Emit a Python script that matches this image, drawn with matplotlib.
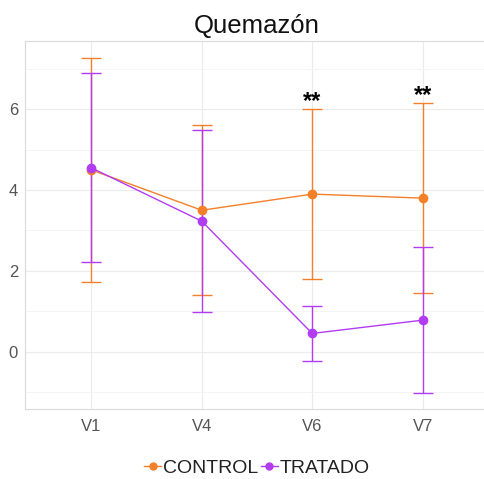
import matplotlib
matplotlib.use("Agg")
import matplotlib.pyplot as plt
from matplotlib.lines import Line2D
from matplotlib.ticker import MultipleLocator
import numpy as np

plt.rcParams['font.family'] = ['Liberation Sans', 'DejaVu Sans']

visits = ["V1", "V4", "V6", "V7"]
control_mean = [4.50, 3.50, 3.90, 3.80]
control_sd = [2.77, 2.10, 2.11, 2.35]
tratado_mean = [4.55, 3.23, 0.45, 0.78]
tratado_sd = [2.34, 2.26, 0.67, 1.80]
signif = ["", "", "**", "**"]

c_orange = "#F5802A"
c_purple = "#B23CF2"

fig = plt.figure(figsize=(4.84, 4.79), dpi=100)
ax = fig.add_axes([25 / 484, 70 / 479, 464 / 484, 368 / 479])

x = np.arange(1, len(visits) + 1)

for mean, sd, col in [(control_mean, control_sd, c_orange),
                      (tratado_mean, tratado_sd, c_purple)]:
    ax.errorbar(x, mean, yerr=sd, color=col, ecolor=col, elinewidth=1.0,
                capsize=7.5, capthick=1.0, lw=1.0, marker="o", ms=6,
                zorder=3)

upper = np.maximum(np.array(control_mean) + control_sd,
                   np.array(tratado_mean) + tratado_sd)
for xi, up, s in zip(x, upper, signif):
    if s:
        ax.text(xi, up + 0.02, s, ha="center", va="baseline", fontsize=17,
                fontweight="bold", color="black")

ax.set_xlim(0.4, 4.6)
ax.set_ylim(-1.42, 7.69)
ax.set_xticks(x)
ax.set_xticklabels(visits)
ax.yaxis.set_major_locator(MultipleLocator(2))
ax.yaxis.set_minor_locator(MultipleLocator(1))

ax.grid(True, which="major", color="#EBEBEB", lw=0.8, zorder=0)
ax.grid(True, which="minor", axis="y", color="#F3F3F3", lw=0.6, zorder=0)
ax.set_axisbelow(True)
ax.tick_params(which="both", length=0, labelsize=12, labelcolor="#555555")
ax.tick_params(axis="x", pad=7)
ax.tick_params(axis="y", pad=5)
for sp in ax.spines.values():
    sp.set_color("#DADADA")
    sp.set_linewidth(0.8)

fig.text(257 / 484, 1 - 26 / 479, "Quemazón", ha="center", va="center",
         fontsize=18.5, color="#111111")

handles = [Line2D([], [], color=c_orange, marker="o", ms=5, lw=1.0),
           Line2D([], [], color=c_purple, marker="o", ms=5, lw=1.0)]
fig.legend(handles, ["CONTROL", "TRATADO"], loc="center",
           bbox_to_anchor=(257 / 484, 1 - 468 / 479), ncol=2, frameon=False,
           fontsize=14, handlelength=0.9, handletextpad=0.1,
           columnspacing=0.1, labelcolor="#222222")

fig.savefig("out.png", dpi=100)
